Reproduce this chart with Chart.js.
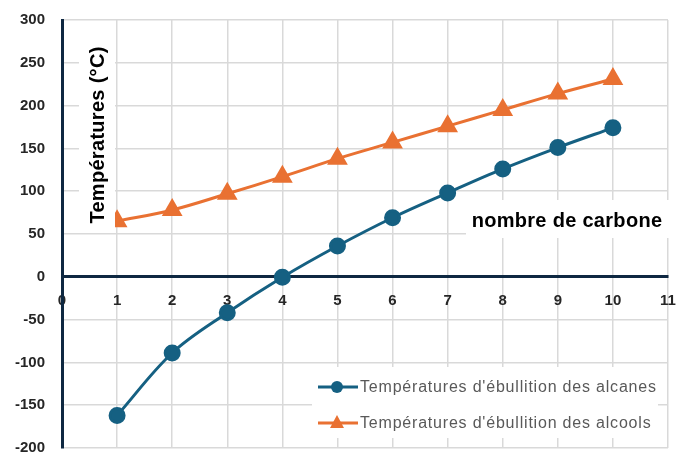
<!DOCTYPE html>
<html>
<head>
<meta charset="utf-8">
<script src="https://cdn.jsdelivr.net/npm/chart.js@4/dist/chart.umd.min.js"></script>
<style>
    html, body { margin: 0; padding: 0; background: #ffffff; }
    #wrap { width: 692px; height: 452px; }
</style>
</head>
<body>
<div id="wrap"><canvas id="tempChart" width="692" height="452"></canvas></div>
<script>
    // nombre d'atomes de carbone
    var carbones = [1, 2, 3, 4, 5, 6, 7, 8, 9, 10];
    // températures d'ébullition (°C)
    var alcanes = [-162, -89, -42, -0.5, 36, 69, 98, 126, 151, 174];
    var alcools = [65, 78, 97, 117, 138, 157, 176, 195, 214, 231];

    var xMin = 0, xMax = 11, xStep = 1;
    var yMin = -200, yMax = 300, yStep = 50;

    var labelAlcanes = "Températures d'ébullition des alcanes";
    var labelAlcools = "Températures d'ébullition des alcools";
    var titreY = 'Températures (°C)';
    var titreX = 'nombre de carbone';

    var colAlcanes = '#156082';
    var colAlcools = '#E97132';
    var colAxe = '#0E2841';
    var colGrid = '#D9D9D9';
    var police = '"Liberation Sans", Arial, sans-serif';

    function toPoints(xs, ys) {
        return xs.map(function (x, i) { return { x: x, y: ys[i] }; });
    }

    // titres et légende posés dans la zone du graphique, sur fond blanc
    var overlayPlugin = {
        id: 'overlay',
        afterDraw: function (chart) {
            var ctx = chart.ctx;
            ctx.save();

            // titre axe Y (vertical)
            ctx.font = 'bold 20px ' + police;
            ctx.letterSpacing = '0.3px';
            var wY = ctx.measureText(titreY).width;
            var cx = 97, cy = 135;
            ctx.fillStyle = '#ffffff';
            ctx.fillRect(cx - 18, cy - wY / 2 - 8, 36, wY + 16);
            ctx.translate(cx, cy);
            ctx.rotate(-Math.PI / 2);
            ctx.fillStyle = '#000000';
            ctx.textAlign = 'center';
            ctx.textBaseline = 'middle';
            ctx.fillText(titreY, 0, 1);
            ctx.setTransform(1, 0, 0, 1, 0, 0);

            // titre axe X
            ctx.fillStyle = '#ffffff';
            ctx.fillRect(466, 200, 203, 38);
            ctx.fillStyle = '#000000';
            ctx.textAlign = 'center';
            ctx.textBaseline = 'middle';
            ctx.fillText(titreX, 567, 221);

            // légende
            ctx.fillStyle = '#ffffff';
            ctx.fillRect(312, 367, 346, 71);
            drawLegendRow(ctx, 387, colAlcanes, 'circle', labelAlcanes);
            drawLegendRow(ctx, 423, colAlcools, 'triangle', labelAlcools);

            ctx.restore();
        }
    };

    function drawLegendRow(ctx, y, color, shape, text) {
        ctx.strokeStyle = color;
        ctx.fillStyle = color;
        ctx.lineWidth = 3;
        ctx.beginPath();
        ctx.moveTo(318, y);
        ctx.lineTo(358, y);
        ctx.stroke();
        ctx.beginPath();
        if (shape === 'circle') {
            ctx.arc(337, y, 6, 0, Math.PI * 2);
        } else {
            ctx.moveTo(337, y - 8);
            ctx.lineTo(344, y + 5);
            ctx.lineTo(330, y + 5);
            ctx.closePath();
        }
        ctx.fill();
        ctx.font = '16px ' + police;
        ctx.letterSpacing = '0.8px';
        ctx.fillStyle = '#595959';
        ctx.textAlign = 'left';
        ctx.textBaseline = 'middle';
        ctx.fillText(text, 360, y + 1);
    }

    var ctxEl = document.getElementById('tempChart');
    var chart = new Chart(ctxEl, {
        type: 'line',
        data: {
            datasets: [{
                label: labelAlcanes,
                data: toPoints(carbones, alcanes),
                borderColor: colAlcanes,
                backgroundColor: colAlcanes,
                borderWidth: 3,
                pointStyle: 'circle',
                pointRadius: 7,
                tension: 0.35
            }, {
                label: labelAlcools,
                data: toPoints(carbones, alcools),
                borderColor: colAlcools,
                backgroundColor: colAlcools,
                borderWidth: 3,
                pointStyle: 'triangle',
                pointRadius: 9,
                tension: 0.35
            }]
        },
        options: {
            responsive: false,
            animation: false,
            layout: { padding: { left: 0, right: 24, top: 20, bottom: 4 }, autoPadding: false },
            plugins: {
                legend: { display: false },
                tooltip: { enabled: false }
            },
            scales: {
                x: {
                    type: 'linear',
                    position: { y: 0 },
                    min: xMin,
                    max: xMax,
                    afterFit: function (scale) { scale.height = 0; },
                    grid: { color: colGrid, lineWidth: 1.5, drawTicks: false },
                    border: { color: colAxe, width: 3 },
                    ticks: {
                        stepSize: xStep,
                        padding: 15,
                        color: '#262626',
                        font: { family: police, size: 15, weight: 'bold' }
                    }
                },
                y: {
                    type: 'linear',
                    position: 'left',
                    min: yMin,
                    max: yMax,
                    afterFit: function (scale) {
                        scale.width = 62;
                        scale.paddingTop = 0;
                        scale.paddingBottom = 0;
                    },
                    grid: { color: colGrid, lineWidth: 1.5, drawTicks: false },
                    border: { color: colAxe, width: 3 },
                    ticks: {
                        stepSize: yStep,
                        padding: 17,
                        color: '#262626',
                        font: { family: police, size: 15, weight: 'bold' }
                    }
                }
            }
        },
        plugins: [overlayPlugin]
    });
</script>
</body>
</html>
